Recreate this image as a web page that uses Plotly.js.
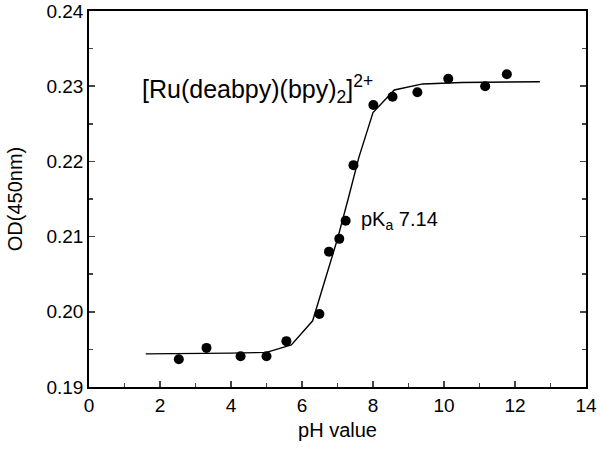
<!DOCTYPE html>
<html>
<head>
<meta charset="utf-8">
<script src="https://cdn.plot.ly/plotly-3.0.1.min.js"></script>
<style>html,body{margin:0;padding:0;background:#fff;}#chart{width:600px;height:452px;}</style>
</head>
<body>
<div id="chart"></div>
<script>
const pH = [2.53, 3.31, 4.27, 5.00, 5.56, 6.49, 6.76, 7.05, 7.23, 7.45, 8.01, 8.55, 9.25, 10.12, 11.16, 11.77];
const OD = [0.1937, 0.1952, 0.1941, 0.1941, 0.1961, 0.1997, 0.2080, 0.2097, 0.2121, 0.2195, 0.2275, 0.2286, 0.2292, 0.2310, 0.2300, 0.2316];
const fitPH = [1.6, 3.0, 4.0, 5.0, 5.7, 6.3, 6.7, 7.0, 7.3, 7.6, 8.0, 8.6, 9.4, 10.5, 12.7];
const fitOD = [0.1944, 0.1944, 0.1945, 0.1946, 0.1956, 0.1988, 0.2050, 0.2097, 0.2150, 0.2205, 0.2265, 0.2295, 0.2303, 0.2305, 0.2306];
const xTicks = [0, 2, 4, 6, 8, 10, 12, 14];
const yTicks = [0.19, 0.20, 0.21, 0.22, 0.23, 0.24];
const yTickText = ['0.19', '0.20', '0.21', '0.22', '0.23', '0.24'];
const compoundLabel = '[Ru(deabpy)(bpy)<sub>2</sub>]<sup>2+</sup>';
const pkaLabel = 'pK<sub>a</sub> 7.14';

const font = {family: 'Liberation Sans, Arial, sans-serif', color: '#000'};
const data = [
  {x: fitPH, y: fitOD, mode: 'lines', line: {color: '#000', width: 1.4}, hoverinfo: 'skip'},
  {x: pH, y: OD, mode: 'markers', marker: {color: '#000', size: 10}}
];
const layout = {
  width: 600, height: 452,
  margin: {l: 89, r: 14, t: 11, b: 65},
  showlegend: false,
  paper_bgcolor: '#fff', plot_bgcolor: '#fff',
  font: Object.assign({size: 19}, font),
  xaxis: {
    range: [0, 14], tickvals: xTicks, ticks: 'inside', ticklen: 6, tickwidth: 1.5,
    minor: {dtick: 1, ticks: 'inside', ticklen: 4, tickwidth: 1.5},
    showline: true, linewidth: 1.8, linecolor: '#000', mirror: true,
    showgrid: false, zeroline: false,
    tickfont: {size: 19}, title: {text: 'pH value', font: {size: 20}, standoff: 8}
  },
  yaxis: {
    range: [0.19, 0.24], tickvals: yTicks, ticktext: yTickText, ticks: 'inside', ticklen: 6, tickwidth: 1.5,
    minor: {dtick: 0.005, ticks: 'inside', ticklen: 4, tickwidth: 1.5},
    showline: true, linewidth: 1.8, linecolor: '#000', mirror: 'ticks',
    showgrid: false, zeroline: false,
    tickfont: {size: 19}, title: {text: 'OD(450nm)', font: {size: 20}, standoff: 18}
  },
  annotations: [
    {x: 1.45, y: 0.2296, xref: 'x', yref: 'y', text: compoundLabel, showarrow: false, xanchor: 'left', yanchor: 'middle', font: {size: 25}},
    {x: 7.6, y: 0.2122, xref: 'x', yref: 'y', text: pkaLabel, showarrow: false, xanchor: 'left', yanchor: 'middle', font: {size: 20}}
  ]
};
Plotly.newPlot('chart', data, layout, {displayModeBar: false, staticPlot: true});
</script>
</body>
</html>
